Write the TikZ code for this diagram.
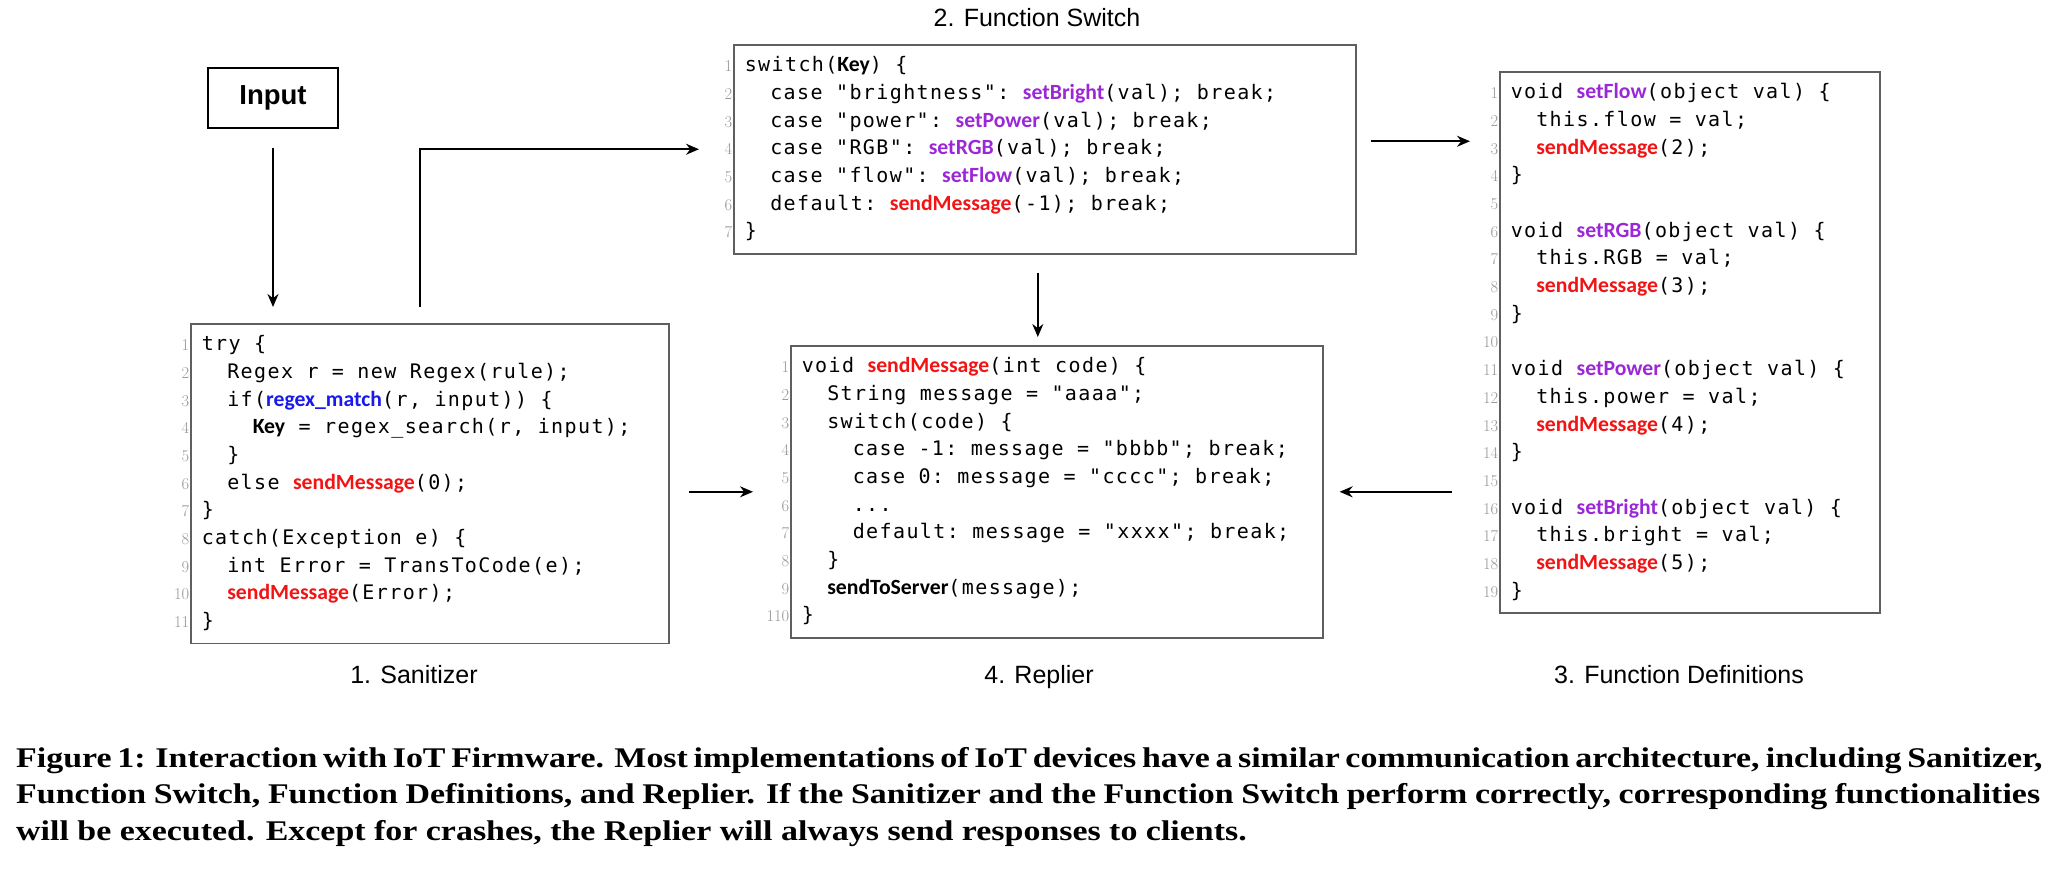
\documentclass[tikz,border=0pt]{standalone}
\usepackage{fontspec}
\setsansfont{Liberation Sans}
\setmonofont{DejaVu Sans Mono}[LetterSpace=7]
\newfontfamily\idfont{Carlito}
\newfontfamily\capfont{Liberation Serif}[FakeStretch=1.19]
\usepackage{tikz}
\usetikzlibrary{arrows.meta}
\setlength{\parindent}{0pt}

\definecolor{callred}{RGB}{242,20,20}
\definecolor{setpurple}{RGB}{155,40,215}
\definecolor{matchblue}{RGB}{25,25,235}
\definecolor{numgray}{RGB}{150,150,150}
\definecolor{boxgray}{RGB}{95,95,95}

\newcommand{\codesize}{\fontsize{20}{27.7}\selectfont\ttfamily\frenchspacing}
\newcommand{\codespace}{\spaceskip=13.44pt\xspaceskip=13.44pt\relax}
\newcommand{\idsize}{\fontsize{21.7}{27.7}\selectfont}
\newcommand{\callfn}[1]{{\idfont\bfseries\idsize\color{callred}#1}}
\newcommand{\setfn}[1]{{\idfont\bfseries\idsize\color{setpurple}#1}}
\newcommand{\matchfn}[1]{{\idfont\bfseries\idsize\color{matchblue}#1}}
\newcommand{\keyid}[1]{{\idfont\bfseries\idsize#1}}
\newcommand{\tb}{\phantom{xx}}
% line number, set left of the box border
\newcommand{\lnum}[1]{\leavevmode\strut\llap{{\rmfamily\fontsize{16.5}{27.7}\selectfont\color{numgray}#1}\hspace{12.5pt}}}

\begin{document}
\begin{tikzpicture}[x=1pt, y=-1pt,
    codebox/.style={draw=boxgray, line width=1.6pt, anchor=north west, inner xsep=11pt, inner ysep=7.5pt,
      align=left, font=\codesize, execute at begin node=\codespace\strut, execute at end node=\strut},
    inputbox/.style={draw, line width=1.8pt, minimum width=130pt, minimum height=60pt,
      font=\sffamily\bfseries\fontsize{27.5}{33}\selectfont},
    parttitle/.style={anchor=base, inner sep=0pt, font=\sffamily\fontsize{25}{30}\selectfont},
    captext/.style={anchor=base west, inner sep=0pt, font=\capfont\bfseries\fontsize{28.5}{36.5}\selectfont},
    flow/.style={-{Stealth[length=13pt,width=11pt]}, line width=1.8pt}
  ]
    \useasboundingbox (0,0) rectangle (2045,872);

    % Input
    \node[inputbox] (input) at (273,98) {Input};

    % 1. Sanitizer
    \node[codebox, text width=456pt] (san) at (190,323) {%
      \lnum{1}try \{\\
      \lnum{2}\tb Regex r = new Regex(rule);\\
      \lnum{3}\tb if(\matchfn{regex\_match}(r, input)) \{\\
      \lnum{4}\tb\tb \keyid{Key} = regex\_search(r, input);\\
      \lnum{5}\tb \}\\
      \lnum{6}\tb else \callfn{sendMessage}(0);\\
      \lnum{7}\}\\
      \lnum{8}catch(Exception e) \{\\
      \lnum{9}\tb int Error = TransToCode(e);\\
      \lnum{10}\tb \callfn{sendMessage}(Error);\\
      \lnum{11}\}};
    \node[parttitle] (santitle) at (414,683) {1. Sanitizer};

    % 2. Function Switch
    \node[codebox, text width=600pt] (fs) at (733,44) {%
      \lnum{1}switch(\keyid{Key}) \{\\
      \lnum{2}\tb case "brightness": \setfn{setBright}(val); break;\\
      \lnum{3}\tb case "power": \setfn{setPower}(val); break;\\
      \lnum{4}\tb case "RGB": \setfn{setRGB}(val); break;\\
      \lnum{5}\tb case "flow": \setfn{setFlow}(val); break;\\
      \lnum{6}\tb default: \callfn{sendMessage}(-1); break;\\
      \lnum{7}\}};
    \node[parttitle] (fstitle) at (1037,27) {2. Function Switch};

    % 4. Replier
    \node[codebox, text width=510pt] (rep) at (790,345) {%
      \lnum{1}void \callfn{sendMessage}(int code) \{\\
      \lnum{2}\tb String message = "aaaa";\\
      \lnum{3}\tb switch(code) \{\\
      \lnum{4}\tb\tb case -1: message = "bbbb"; break;\\
      \lnum{5}\tb\tb case 0: message = "cccc"; break;\\
      \lnum{6}\tb\tb ...\\
      \lnum{7}\tb\tb default: message = "xxxx"; break;\\
      \lnum{8}\tb \}\\
      \lnum{9}\tb \keyid{sendToServer}(message);\\
      \lnum{110}\}};
    \node[parttitle] (reptitle) at (1039,683) {4. Replier};

    % 3. Function Definitions
    \node[codebox, text width=358pt] (fd) at (1499,71) {%
      \lnum{1}void \setfn{setFlow}(object val) \{\\
      \lnum{2}\tb this.flow = val;\\
      \lnum{3}\tb \callfn{sendMessage}(2);\\
      \lnum{4}\}\\
      \lnum{5}\\
      \lnum{6}void \setfn{setRGB}(object val) \{\\
      \lnum{7}\tb this.RGB = val;\\
      \lnum{8}\tb \callfn{sendMessage}(3);\\
      \lnum{9}\}\\
      \lnum{10}\\
      \lnum{11}void \setfn{setPower}(object val) \{\\
      \lnum{12}\tb this.power = val;\\
      \lnum{13}\tb \callfn{sendMessage}(4);\\
      \lnum{14}\}\\
      \lnum{15}\\
      \lnum{16}void \setfn{setBright}(object val) \{\\
      \lnum{17}\tb this.bright = val;\\
      \lnum{18}\tb \callfn{sendMessage}(5);\\
      \lnum{19}\}};
    \node[parttitle] (fdtitle) at (1679,683) {3. Function Definitions};

    % Connectors
    \draw[flow, shorten <=19pt, shorten >=16pt] (input.south) -- (input.south |- san.north);
    \draw[flow, shorten <=16pt, shorten >=34pt] ([xshift=-10pt]san.north) |- (fs.west);
    \draw[flow, shorten <=18pt, shorten >=8pt] ([xshift=-7pt]fs.south) -- ([xshift=-7pt]fs.south |- rep.north);
    \draw[flow, shorten <=19pt, shorten >=37pt] (san.east |- rep.west) -- (rep.west);
    \draw[flow, shorten <=14pt, shorten >=29pt] ([yshift=8pt]fs.east) -- ([yshift=8pt]fs.east -| fd.west);
    \draw[flow, shorten <=47pt, shorten >=16pt] (fd.west |- rep.east) -- (rep.east);

    % Caption
    \node[captext] (cap1) at (16,767) {\makebox[2024pt][s]{Figure 1: Interaction with IoT Firmware. Most implementations of IoT devices have a similar communication architecture, including Sanitizer,}};
    \node[captext] (cap2) at (16,803) {\makebox[2024pt][s]{Function Switch, Function Definitions, and Replier. If the Sanitizer and the Function Switch perform correctly, corresponding functionalities}};
    \node[captext] (cap3) at (16,840) {will be executed. Except for crashes, the Replier will always send responses to clients.};
\end{tikzpicture}
\end{document}
